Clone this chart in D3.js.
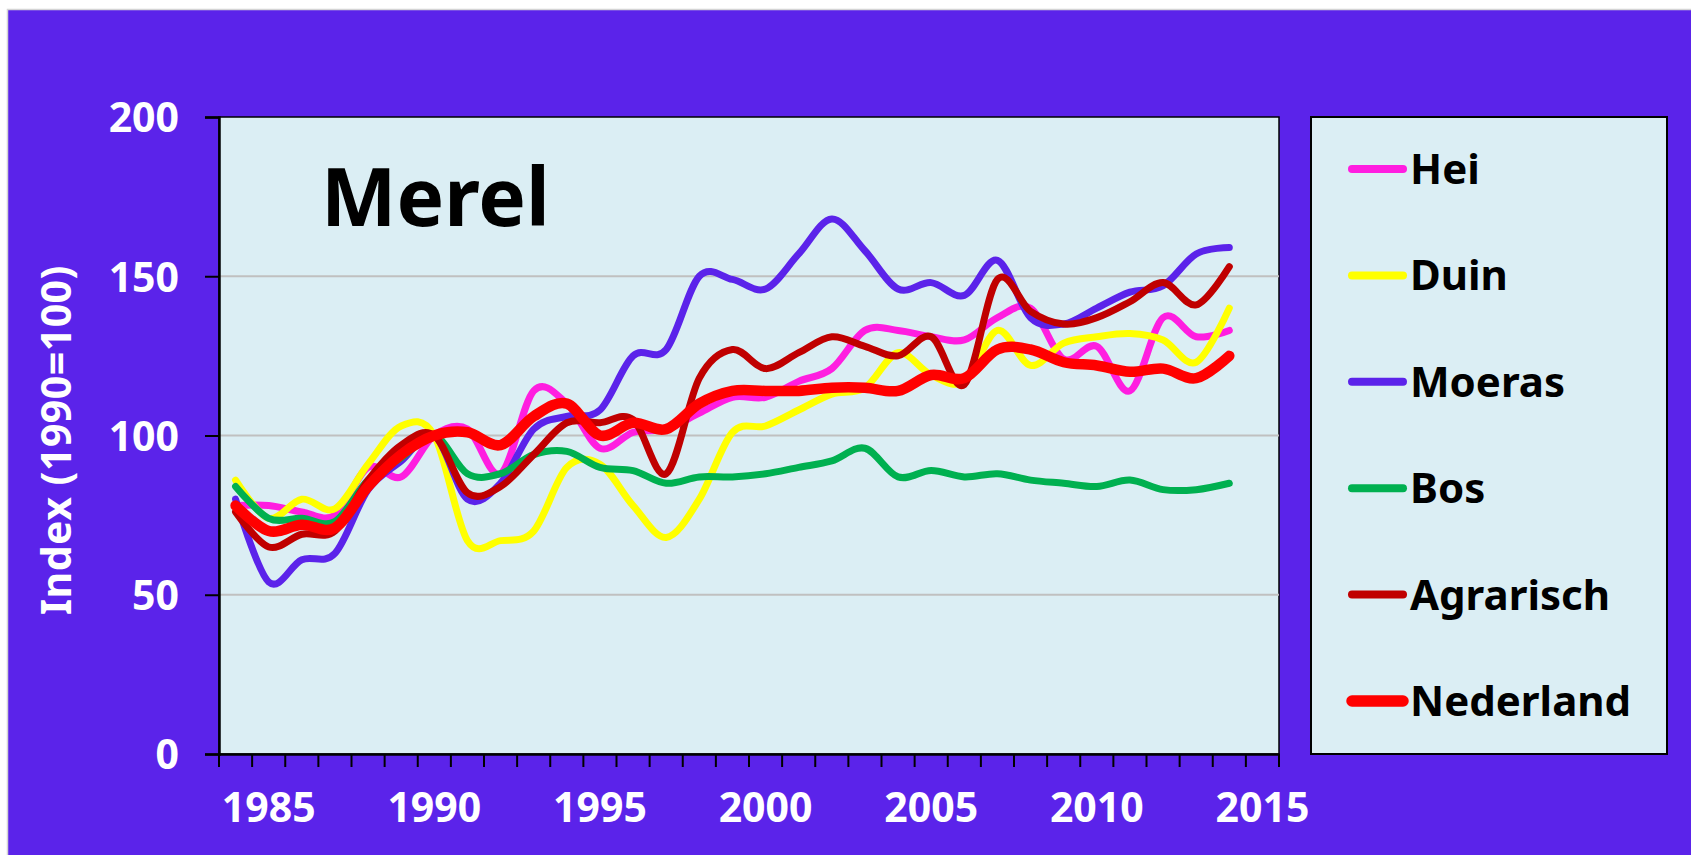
<!DOCTYPE html>
<html>
<head>
<meta charset="utf-8">
<title>Merel</title>
<script src="https://cdn.jsdelivr.net/npm/d3@7"></script>
<style>
    body { margin: 0; background: #ffffff; }
    svg { display: block; }
    text { font-family: "Noto Sans", "DejaVu Sans", sans-serif; font-weight: bold; }
</style>
</head>
<body>
<div id="chart"></div>
<script>
// data (index, 1990 = 100)
const years = [1984, 1985, 1986, 1987, 1988, 1989, 1990, 1991, 1992, 1993, 1994, 1995, 1996, 1997, 1998, 1999,
               2000, 2001, 2002, 2003, 2004, 2005, 2006, 2007, 2008, 2009, 2010, 2011, 2012, 2013, 2014];
const categories = [1984, 1985, 1986, 1987, 1988, 1989, 1990, 1991, 1992, 1993, 1994, 1995, 1996, 1997, 1998, 1999,
                    2000, 2001, 2002, 2003, 2004, 2005, 2006, 2007, 2008, 2009, 2010, 2011, 2012, 2013, 2014, 2015];
const xTickLabels = [1985, 1990, 1995, 2000, 2005, 2010, 2015];
const yTicks = [0, 50, 100, 150, 200];
const yGrid = [50, 100, 150];

const hei       = [78, 78, 76, 75, 90, 87, 100, 102, 88, 114, 110, 96, 101, 102, 107, 112,
                   112, 117, 121, 133, 133, 131, 130, 137, 140, 124, 128, 114, 137, 131, 133];
const duin      = [86, 74, 80, 77, 91, 103, 100, 67, 67, 70, 90, 91, 78, 68, 80, 101,
                   103, 108, 113, 115, 126, 119, 117, 133, 122, 129, 131, 132, 130, 123, 140];
const moeras    = [80, 54, 61, 63, 83, 92, 100, 80, 85, 102, 106, 108, 125, 127, 150, 149,
                   146, 157, 168, 158, 146, 148, 144, 155, 137, 135, 140, 145, 147, 157, 159];
const bos       = [84, 74, 74, 73, 86, 93, 100, 88, 88, 94, 95, 90, 89, 85, 87, 87,
                   88, 90, 92, 96, 87, 89, 87, 88, 86, 85, 84, 86, 83, 83, 85];
const agrarisch = [76, 65, 69, 70, 86, 97, 100, 82, 84, 94, 104, 104, 105, 88, 118, 127,
                   121, 126, 131, 128, 125, 131, 116, 149, 139, 135, 137, 142, 148, 141, 153];
const nederland = [78, 70, 72, 71, 84, 94, 100, 101, 97, 106, 110, 100, 104, 102, 110, 114,
                   114, 114, 115, 115, 114, 119, 118, 127, 127, 123, 122, 120, 121, 118, 125];

const seriesNames = ["Hei", "Duin", "Moeras", "Bos", "Agrarisch", "Nederland"];
const seriesValues = [hei, duin, moeras, bos, agrarisch, nederland];
const seriesColours = ["#FF1EE0", "#FFFF00", "#5B23EA", "#00B050", "#C00000", "#FF0000"];
const seriesWidths = [7, 7, 7, 7, 7, 10.5];

const chartTitle = "Merel";
const yTitle = "Index (1990=100)";

const W = 1691, H = 855;
const purple = "#5B23EA";
const plotBg = "#DBEEF4";

// plot box
const plot = { left: 219, top: 117, right: 1279, bottom: 754 };
const legendBox = { left: 1311, top: 117, right: 1667, bottom: 754 };

const svg = d3.select("#chart")
    .append("svg")
    .attr("width", W)
    .attr("height", H);

// outer purple panel
svg.append("rect")
    .attr("x", 7.5).attr("y", 9.5)
    .attr("width", W).attr("height", H)
    .attr("fill", purple)
    .attr("stroke", "#d4d4d4")
    .attr("stroke-width", 1.5);

// plot area
svg.append("rect")
    .attr("x", plot.left).attr("y", plot.top)
    .attr("width", plot.right - plot.left)
    .attr("height", plot.bottom - plot.top)
    .attr("fill", plotBg)
    .attr("stroke", "#000")
    .attr("stroke-width", 1.5);

const x = d3.scaleBand()
    .domain(categories)
    .range([plot.left, plot.right])
    .padding(0);

const y = d3.scaleLinear()
    .domain([0, 200])
    .range([plot.bottom, plot.top]);

// gridlines
svg.append("g")
    .selectAll("line")
    .data(yGrid)
    .enter()
    .append("line")
    .attr("x1", plot.left).attr("x2", plot.right)
    .attr("y1", d => y(d)).attr("y2", d => y(d))
    .attr("stroke", "#c0c0c0")
    .attr("stroke-width", 2);

// y axis
const yAxis = svg.append("g")
    .attr("transform", "translate(" + plot.left + ",0)")
    .call(d3.axisLeft(y).tickValues(yTicks).tickSize(14).tickPadding(26));
yAxis.select(".domain").attr("stroke", "#000").attr("stroke-width", 2.5);
yAxis.selectAll(".tick line").attr("stroke", "#000").attr("stroke-width", 2);
yAxis.selectAll("text")
    .attr("fill", "#fff")
    .attr("font-size", 41)
    .attr("font-family", "'Noto Sans', sans-serif")
    .attr("dy", "0.36em");

// x axis: labels centred in the categories, ticks on the category borders
const xAxis = svg.append("g")
    .attr("transform", "translate(0," + plot.bottom + ")")
    .call(d3.axisBottom(x).tickValues(xTickLabels).tickSize(0));
xAxis.select(".domain").attr("stroke", "#000").attr("stroke-width", 2.5);
xAxis.selectAll("text")
    .attr("fill", "#fff")
    .attr("font-size", 41)
    .attr("font-family", "'Noto Sans', sans-serif")
    .attr("y", 68)
    .attr("dy", 0);

const borders = categories.map(c => x(c)).concat([x.range()[1]]);
svg.append("g")
    .selectAll("line")
    .data(borders)
    .enter()
    .append("line")
    .attr("x1", d => d).attr("x2", d => d)
    .attr("y1", plot.bottom).attr("y2", plot.bottom + 13)
    .attr("stroke", "#000")
    .attr("stroke-width", 2);

// series
const line = d3.line()
    .x(d => x(d.year) + x.bandwidth() / 2)
    .y(d => y(d.value))
    .curve(d3.curveCardinal.tension(0));

seriesValues.forEach((vals, i) => {
    const pts = years.map((yr, j) => ({ year: yr, value: vals[j] }));
    svg.append("path")
        .datum(pts)
        .attr("d", line)
        .attr("fill", "none")
        .attr("stroke", seriesColours[i])
        .attr("stroke-width", seriesWidths[i])
        .attr("stroke-linecap", "round")
        .attr("stroke-linejoin", "round");
});

// chart title inside the plot
svg.append("text")
    .attr("x", 321)
    .attr("y", 226)
    .attr("font-size", 80)
    .attr("fill", "#000")
    .text(chartTitle);

// y title
svg.append("text")
    .attr("transform", "translate(71, 440) rotate(-90)")
    .attr("text-anchor", "middle")
    .attr("font-size", 41)
    .attr("letter-spacing", 0.5)
    .attr("fill", "#fff")
    .text(yTitle);

// legend
svg.append("rect")
    .attr("x", legendBox.left).attr("y", legendBox.top)
    .attr("width", legendBox.right - legendBox.left)
    .attr("height", legendBox.bottom - legendBox.top)
    .attr("fill", plotBg)
    .attr("stroke", "#000")
    .attr("stroke-width", 2);

const rowY = d3.scalePoint()
    .domain(seriesNames)
    .range([169, 701]);

const leg = svg.append("g")
    .selectAll("g")
    .data(seriesNames)
    .enter()
    .append("g")
    .attr("transform", d => "translate(0," + rowY(d) + ")");

leg.append("line")
    .attr("x1", 1352).attr("x2", 1403)
    .attr("y1", 0).attr("y2", 0)
    .attr("stroke", (d, i) => seriesColours[i])
    .attr("stroke-width", (d, i) => seriesWidths[i] + 1)
    .attr("stroke-linecap", "round");

leg.append("text")
    .attr("x", 1410)
    .attr("y", 15)
    .attr("font-size", 42)
    .attr("fill", "#000")
    .text(d => d);
</script>
</body>
</html>
